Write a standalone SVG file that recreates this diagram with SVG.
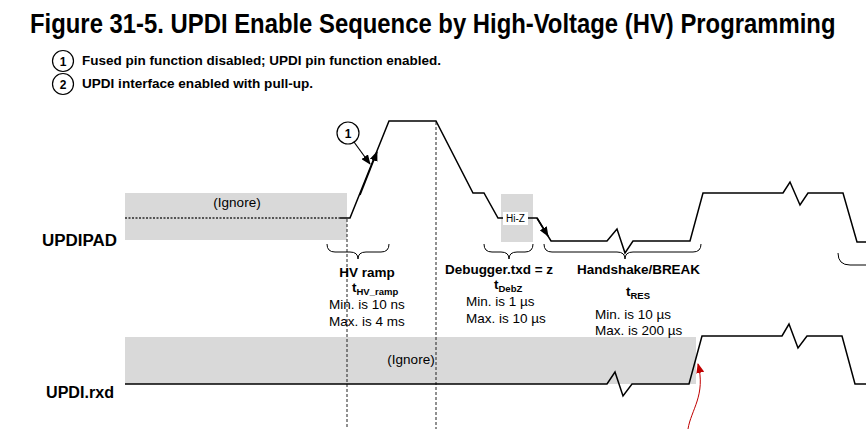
<svg xmlns="http://www.w3.org/2000/svg" width="866" height="429" viewBox="0 0 866 429">
<style>
text{font-family:"Liberation Sans",Arial,sans-serif;fill:#000}
.title{font-size:27px;font-weight:bold}
.leg{font-size:12px;font-weight:bold}
.sig{font-size:16px;font-weight:bold}
.lbl{font-size:13.5px;font-weight:bold}
.val{font-size:13.5px}
.sub{font-size:9.5px;font-weight:bold}
.ign{font-size:13.5px}
.gray{fill:#d9d9d9;stroke:none}
.wave{fill:none;stroke:#000;stroke-width:1.5;stroke-linejoin:miter}
.dash{fill:none;stroke:#222;stroke-width:1;stroke-dasharray:3,2}
.brace{fill:none;stroke:#000;stroke-width:1}
.circ{fill:#fff;stroke:#000;stroke-width:1.2}
</style>
<defs>
<marker id="ah" markerWidth="10" markerHeight="8" refX="9" refY="4" orient="auto" markerUnits="userSpaceOnUse">
<path d="M0,0 L10,4 L0,8 z" fill="#000"/>
</marker>
<marker id="ahr" markerWidth="10" markerHeight="8" refX="9" refY="4" orient="auto" markerUnits="userSpaceOnUse">
<path d="M0,0 L10,4 L0,8 z" fill="#c00000"/>
</marker>
</defs>
<rect width="866" height="429" fill="#fff"/>

<text class="title" transform="translate(30,33) scale(0.884,1)" x="0" y="0">Figure 31-5. UPDI Enable Sequence by High-Voltage (HV) Programming</text>

<g id="legend">
<g id="legend1">
<circle class="circ" cx="63" cy="61" r="10.5"/>
<text class="leg" x="63" y="65.5" text-anchor="middle">1</text>
<text class="leg" x="82" y="65" textLength="359" lengthAdjust="spacingAndGlyphs">Fused pin function disabled; UPDI pin function enabled.</text>
</g>
<g id="legend2">
<circle class="circ" cx="63" cy="84" r="10.5"/>
<text class="leg" x="63" y="88.5" text-anchor="middle">2</text>
<text class="leg" x="82" y="88" textLength="231" lengthAdjust="spacingAndGlyphs">UPDI interface enabled with pull-up.</text>
</g>
</g>

<g id="updipad">
<text class="sig" x="42" y="246" textLength="75" lengthAdjust="spacingAndGlyphs">UPDIPAD</text>
<rect class="gray" x="125" y="193" width="222" height="47"/>
<text class="ign" x="237" y="207" text-anchor="middle">(Ignore)</text>
<line x1="125" y1="218" x2="340" y2="218" stroke="#555" stroke-width="2" stroke-dasharray="2,1.5"/>
<rect class="gray" x="501" y="194" width="32" height="48"/>
</g>

<g id="updirxd">
<text class="sig" x="46" y="398" textLength="68" lengthAdjust="spacingAndGlyphs">UPDI.rxd</text>
<rect class="gray" x="125" y="337" width="571" height="47"/>
<text class="ign" x="411" y="364" text-anchor="middle">(Ignore)</text>
</g>

<g id="connectors">
<line class="dash" x1="347" y1="219" x2="347" y2="429"/>
<line class="dash" x1="436" y1="122" x2="436" y2="429"/>
<polyline class="wave" points="340,218 350,218 389,121 436,121 473,193 484,193 498,218 504,218"/>
<polyline class="wave" points="528,218 537,218 551,241 607,241 617,229 625,253 633,241 690,241 703,193 783,193 790,182 800,205 808,193 843,193 857,242 866,242"/>
<line class="wave" x1="537" y1="218" x2="548" y2="236" marker-end="url(#ah)"/>
<polyline class="wave" points="125,384 607,384 615,372 623,396 632,384 689,384 702,336 782,336 789,324 798,348 807,336 842,336 855,384 866,384"/>
<line class="wave" x1="360" y1="195" x2="377" y2="152" marker-end="url(#ah)"/>
<path d="M688,429 C691,410 706,395 698,364" fill="none" stroke="#c00000" stroke-width="1" marker-end="url(#ahr)"/>
<path class="brace" d="M327,244 Q327,252 335,252 L350,252 Q358,252 358,259 Q358,252 366,252 L381,252 Q389,252 389,244"/>
<path class="brace" d="M484,244 Q484,252 492,252 L501,252 Q509,252 509,259 Q509,252 517,252 L525,252 Q533,252 533,244"/>
<path class="brace" d="M544,244 Q544,252 552,252 L617,252 Q625,252 625,259 Q625,252 633,252 L693,252 Q701,252 701,244"/>
<path class="brace" d="M838,253 Q838,265 850,265 L866,265"/>
</g>

<g id="hiz">
<rect x="503" y="212" width="25" height="13" fill="#fff"/>
<text x="515.5" y="222" text-anchor="middle" font-size="10">Hi-Z</text>
</g>

<g id="note1">
<line x1="354" y1="142" x2="370" y2="164" stroke="#000" stroke-width="1.2" marker-end="url(#ah)"/>
<circle class="circ" cx="348" cy="133" r="11"/>
<text class="leg" x="348" y="137.5" text-anchor="middle">1</text>
</g>

<g id="hvramp">
<text class="lbl" x="367" y="277" text-anchor="middle">HV ramp</text>
<text class="lbl" x="352" y="292">t<tspan class="sub" dy="3">HV_ramp</tspan></text>
<text class="val" x="329" y="309">Min. is 10 ns</text>
<text class="val" x="329" y="326">Max. is 4 ms</text>
</g>

<g id="debz">
<text class="lbl" x="445" y="274" textLength="108">Debugger.txd = z</text>
<text class="lbl" x="494" y="289">t<tspan class="sub" dy="3">DebZ</tspan></text>
<text class="val" x="466" y="306">Min. is 1 µs</text>
<text class="val" x="466" y="323">Max. is 10 µs</text>
</g>

<g id="handshake">
<text class="lbl" x="577" y="274" textLength="123">Handshake/BREAK</text>
<text class="lbl" x="626" y="296">t<tspan class="sub" dy="3">RES</tspan></text>
<text class="val" x="595" y="319">Min. is 10 µs</text>
<text class="val" x="595" y="335">Max. is 200 µs</text>
</g>
</svg>
